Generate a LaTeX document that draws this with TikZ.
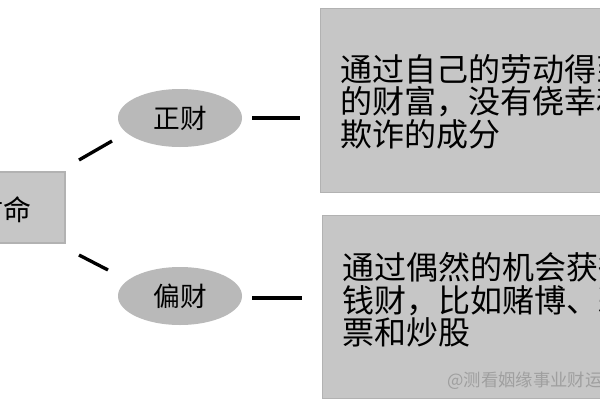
\documentclass[tikz,border=0pt]{standalone}
\usepackage{fontspec}
\usetikzlibrary{shapes.geometric}
\setmainfont{Noto Sans CJK SC}
\tikzset{
  bx/.style={fill=gray!45,draw=gray!60,line width=1pt},
  el/.style={fill=gray!55,draw=none},
  ln/.style={line width=2.5pt,black},
  tx/.style={font=\fontsize{24pt}{24.5pt}\selectfont,anchor=north west,align=left,inner sep=0pt}
}
\begin{document}
\begin{tikzpicture}[x=0.75pt,y=-0.75pt]
\useasboundingbox (0,0) rectangle (600,400);
\clip (0,0) rectangle (600,400);
\fill[white] (0,0) rectangle (600,400);
\node[bx,minimum width=130*0.75pt,minimum height=71*0.75pt,inner sep=0pt] (root) at (0,207.5) {};
\node[tx,anchor=center,font=\fontsize{21pt}{22pt}\selectfont] (rt) at (4,210) {财命};
\node[el,ellipse,minimum width=124*0.75pt,minimum height=58*0.75pt] (zc) at (180,118) {\fontsize{20pt}{22pt}\selectfont 正财};
\node[el,ellipse,minimum width=124*0.75pt,minimum height=58*0.75pt] (pc) at (180,296) {\fontsize{20pt}{22pt}\selectfont 偏财};
\node[bx,minimum width=300*0.75pt,minimum height=184*0.75pt,inner sep=0pt,anchor=north west] (b1) at (320,8) {};
\node[bx,minimum width=300*0.75pt,minimum height=183*0.75pt,inner sep=0pt,anchor=north west] (b2) at (322,215) {};
\node[tx] (t1) at (340,54) {通过自己的劳动得到\\的财富，没有侥幸和\\欺诈的成分};
\node[tx] (t2) at (342,252) {通过偶然的机会获得\\钱财，比如赌博、彩\\票和炒股};
\coordinate (a1) at (79,160); \coordinate (a2) at (112,141);
\coordinate (c1) at (79,255); \coordinate (c2) at (108,270);
\draw[ln] (a1) -- (a2);
\draw[ln] (c1) -- (c2);
\coordinate (h1) at (252,118); \coordinate (h2) at (300,118);
\coordinate (k1) at (252,298); \coordinate (k2) at (302,298);
\draw[ln] (h1) -- (h2);
\draw[ln] (k1) -- (k2);
\node[anchor=west,text=gray!75,font=\fontsize{13pt}{14pt}\selectfont,inner sep=0pt] (wm) at (447,381) {@测看姻缘事业财运};
\end{tikzpicture}
\end{document}
